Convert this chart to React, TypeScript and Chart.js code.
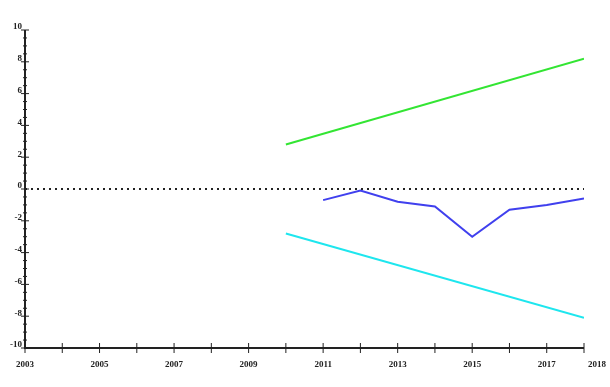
import React, { useEffect, useRef } from "react";
import { Chart, registerables } from "chart.js";

Chart.register(...registerables);

const years = [2010, 2011, 2012, 2013, 2014, 2015, 2016, 2017, 2018];
const upperBand = [2.8, null, null, null, null, null, null, null, 8.2];
const lowerBand = [-2.8, null, null, null, null, null, null, null, -8.1];
const seriesYears = [2011, 2012, 2013, 2014, 2015, 2016, 2017, 2018];
const seriesValues = [-0.7, -0.1, -0.8, -1.1, -3.0, -1.3, -1.0, -0.6];
const xLabelYears = [2003, 2005, 2007, 2009, 2011, 2013, 2015, 2017, 2018];
const yLabelValues = [10, 8, 6, 4, 2, 0, -2, -4, -6, -8, -10];
const X_MIN = 2003;
const X_MAX = 2018;
const Y_MIN = -10;
const Y_MAX = 10;

const axesPlugin = {
  id: "customAxes",
  afterDatasetsDraw(chart: any) {
    const { ctx, scales } = chart;
    const xs = scales.x;
    const ys = scales.y;
    const x0 = xs.getPixelForValue(X_MIN);
    const x1 = xs.getPixelForValue(X_MAX);
    const yB = ys.getPixelForValue(Y_MIN);
    const yT = ys.getPixelForValue(Y_MAX);
    ctx.save();
    ctx.strokeStyle = "#222";
    ctx.fillStyle = "#222";
    ctx.setLineDash([2, 4]);
    ctx.lineWidth = 2;
    const y0 = ys.getPixelForValue(0);
    ctx.beginPath();
    ctx.moveTo(x0, y0);
    ctx.lineTo(x1, y0);
    ctx.stroke();
    ctx.setLineDash([]);
    ctx.lineWidth = 2;
    ctx.beginPath();
    ctx.moveTo(x0, yT);
    ctx.lineTo(x0, yB);
    ctx.lineTo(x1, yB);
    ctx.stroke();
    ctx.lineWidth = 1;
    for (let v = Y_MIN; v <= Y_MAX + 1e-9; v += 0.5) {
      const py = ys.getPixelForValue(v);
      const major = Math.abs(v % 2) < 1e-9;
      const len = major ? 4 : 2;
      ctx.beginPath();
      ctx.moveTo(x0 - len, py);
      ctx.lineTo(x0 + len, py);
      ctx.stroke();
    }
    for (let yr = X_MIN; yr <= X_MAX; yr++) {
      const px = xs.getPixelForValue(yr);
      ctx.beginPath();
      ctx.moveTo(px, yB - 5);
      ctx.lineTo(px, yB + 5);
      ctx.stroke();
    }
    ctx.font = "bold 9px 'Liberation Serif'";
    ctx.textBaseline = "top";
    ctx.textAlign = "center";
    for (const yr of xLabelYears) {
      let px = xs.getPixelForValue(yr);
      if (yr === X_MAX) px += 13;
      ctx.fillText(String(yr), px, yB + 12);
    }
    ctx.textAlign = "right";
    ctx.textBaseline = "middle";
    for (const v of yLabelValues) {
      const py = ys.getPixelForValue(v);
      ctx.fillText(String(v), x0 - 3, py - 3);
    }
    ctx.restore();
  },
};

export default function App() {
  const ref = useRef<HTMLCanvasElement>(null);
  useEffect(() => {
    document.body.style.margin = "0";
    const canvas = ref.current!;
    const chart = new Chart(canvas, {
      type: "line",
      data: {
        datasets: [
          {
            data: years.map((y, i) => ({ x: y, y: upperBand[i] })).filter((p) => p.y !== null) as any,
            borderColor: "#33e533",
            borderWidth: 2,
            pointRadius: 0,
          },
          {
            data: years.map((y, i) => ({ x: y, y: lowerBand[i] })).filter((p) => p.y !== null) as any,
            borderColor: "#1ee6ee",
            borderWidth: 2,
            pointRadius: 0,
          },
          {
            data: seriesYears.map((y, i) => ({ x: y, y: seriesValues[i] })),
            borderColor: "#4040ee",
            borderWidth: 2,
            pointRadius: 0,
          },
        ],
      },
      options: {
        animation: false,
        responsive: false,
        maintainAspectRatio: false,
        layout: { padding: { left: 25, right: 26, top: 30, bottom: 39 } },
        plugins: { legend: { display: false }, tooltip: { enabled: false } },
        scales: {
          x: { type: "linear", min: X_MIN, max: X_MAX, display: false },
          y: { type: "linear", min: Y_MIN, max: Y_MAX, display: false },
        },
      },
      plugins: [axesPlugin],
    });
    return () => chart.destroy();
  }, []);
  return (
    <canvas
      ref={ref}
      width={610}
      height={387}
      style={{ position: "absolute", left: 0, top: 0, width: 610, height: 387 }}
    />
  );
}
